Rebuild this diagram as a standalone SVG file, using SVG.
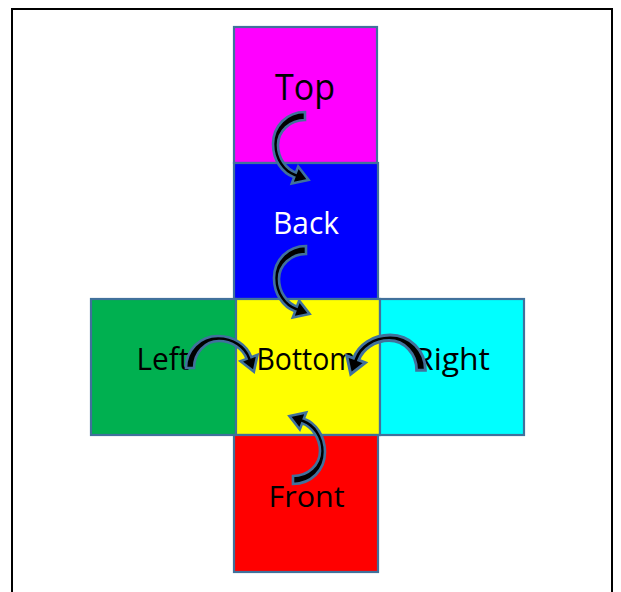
<svg xmlns="http://www.w3.org/2000/svg" xmlns:xlink="http://www.w3.org/1999/xlink" width="621" height="592" viewBox="0 0 621 592">
  <style>
    .face { stroke: #41719C; stroke-width: 2.2; }
    .lbl { font-family: "Open Sans", "Noto Sans", sans-serif; text-anchor: middle; fill: #000000; }
    .arrow { fill: #000000; stroke: #41719C; stroke-width: 2.6; stroke-linejoin: miter; vector-effect: non-scaling-stroke; }
  </style>
  <defs>
    <path id="curved" d="M 2,-34 C -16,-34 -30,-20 -30,-2 C -30,14 -21,27 -8.85,31.35 L -11.2,37.5 L 5.6,33.9 L -4.8,20.5 L -7.15,26.65 C -17,23 -25,12 -25,-1 C -25,-15 -13,-26 2,-26 Z"/>
  </defs>
  <rect x="12" y="9" width="600" height="600" fill="#FFFFFF" stroke="#000000" stroke-width="2"/>
  <g id="top">
    <rect class="face" x="234" y="27" width="143" height="136" fill="#FF00FF"/>
    <text class="lbl" x="305" y="100" font-size="36" textLength="60" lengthAdjust="spacingAndGlyphs">Top</text>
  </g>
  <g id="back">
    <rect class="face" x="234" y="163" width="144" height="136" fill="#0000FF"/>
    <text class="lbl" x="306" y="234" font-size="31" textLength="66" lengthAdjust="spacingAndGlyphs" style="fill:#FFFFFF">Back</text>
  </g>
  <g id="left">
    <rect class="face" x="91" y="299" width="145" height="136" fill="#00B050"/>
    <text class="lbl" x="163" y="370" font-size="31" textLength="53" lengthAdjust="spacingAndGlyphs">Left</text>
  </g>
  <g id="bottom">
    <rect class="face" x="236" y="299" width="144" height="136" fill="#FFFF00"/>
    <text class="lbl" x="306" y="370" font-size="31" textLength="99" lengthAdjust="spacingAndGlyphs">Bottom</text>
  </g>
  <g id="right">
    <rect class="face" x="380" y="299" width="144" height="136" fill="#00FFFF"/>
    <text class="lbl" x="452" y="370" font-size="31" textLength="76" lengthAdjust="spacingAndGlyphs">Right</text>
  </g>
  <g id="front">
    <rect class="face" x="234" y="435" width="144" height="137" fill="#FF0000"/>
    <text class="lbl" x="306.5" y="507" font-size="30" textLength="76" lengthAdjust="spacingAndGlyphs">Front</text>
  </g>
  <g id="connectors">
    <use xlink:href="#curved" class="arrow" transform="translate(303,146)"/>
    <use xlink:href="#curved" class="arrow" transform="translate(304,280)"/>
    <use xlink:href="#curved" class="arrow" transform="translate(220,366) matrix(0 1 1 0 0 0)"/>
    <use xlink:href="#curved" class="arrow" transform="translate(388,368) rotate(90) scale(1.1)"/>
    <use xlink:href="#curved" class="arrow" transform="translate(295,450) rotate(180)"/>
  </g>
</svg>
